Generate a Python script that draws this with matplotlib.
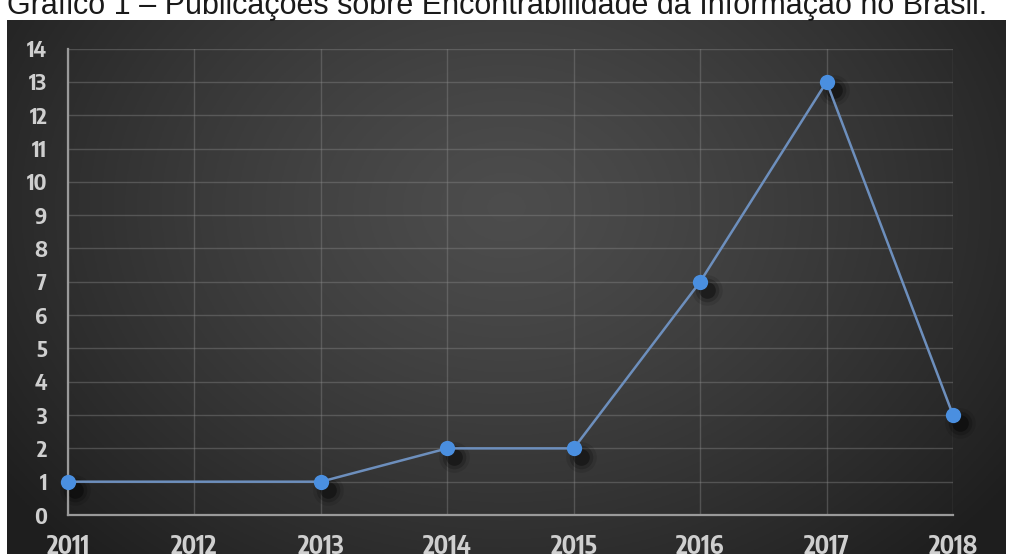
import numpy as np
import matplotlib
matplotlib.use("Agg")
import matplotlib.pyplot as plt
from matplotlib.transforms import offset_copy

# Publications per year
years = [2011, 2013, 2014, 2015, 2016, 2017, 2018]
counts = [1, 1, 2, 2, 7, 13, 3]
xticks = list(range(2011, 2019))
yticks = list(range(0, 15))
title = "Gráfico 1 – Publicações sobre Encontrabilidade da Informação no Brasil."

W, H = 1011, 554
fig = plt.figure(figsize=(W / 100, H / 100), dpi=100)
fig.patch.set_facecolor("white")

# dark panel with a soft radial gradient
bg = fig.add_axes([7 / W, 0, (1006 - 7) / W, (H - 20) / H])
bg.set_axis_off()
gx, gy = np.meshgrid(np.linspace(0, 1, 400), np.linspace(0, 1, 220))
r = np.sqrt(((gx - 0.5) / 0.62) ** 2 + ((gy - 0.35) / 0.9) ** 2)
level = 0.30 - 0.18 * np.clip(r, 0, 1) ** 1.3
img = np.dstack([level, level, level])
bg.imshow(img, extent=[0, 1, 0, 1], aspect="auto", origin="upper")

ax = fig.add_axes([68 / W, (H - 515) / H, (953 - 68) / W, (515 - 48.6) / H])
ax.set_facecolor("none")
ax.set_xlim(2011, 2018)
ax.set_ylim(0, 14)
ax.set_xticks(xticks)
ax.set_yticks(yticks)
ax.grid(True, color="#8a8a8a", alpha=0.4, linewidth=1.0)
for side in ["top", "right"]:
    ax.spines[side].set_visible(False)
for side in ["left", "bottom"]:
    ax.spines[side].set_color("#9a9a9a")
    ax.spines[side].set_linewidth(1.6)
ax.tick_params(length=0, colors="#cfcfcf")
ax.tick_params(axis="x", pad=14)
ax.tick_params(axis="y", pad=15)
narrow = ["Encode Sans Condensed", "Liberation Sans"]
for lab in ax.get_yticklabels():
    lab.set_family(narrow)
    lab.set_fontweight("bold")
    lab.set_fontsize(16)
for lab in ax.get_xticklabels():
    lab.set_family(narrow)
    lab.set_fontweight("bold")
    lab.set_fontsize(18)

# blurred drop shadow under each marker
for s, a in [(22, 0.10), (17, 0.18), (12, 0.35)]:
    tr = offset_copy(ax.transData, fig=fig, x=5, y=-6, units="points")
    ax.plot(years, counts, "o", color="black", markersize=s, alpha=a,
            markeredgewidth=0, transform=tr, clip_on=False, zorder=2)

ax.plot(years, counts, color="#6d8fbd", linewidth=1.8, zorder=3, clip_on=False)
ax.plot(years, counts, "o", color="#4a8fe0", markersize=11, markeredgewidth=0,
        zorder=4, clip_on=False)

fig.text(7 / W, 1 - 14 / H, title, fontsize=22, color="#1a1a1a",
         family="Liberation Sans", va="baseline", ha="left")

fig.savefig("out.png", dpi=100, facecolor=fig.get_facecolor())
